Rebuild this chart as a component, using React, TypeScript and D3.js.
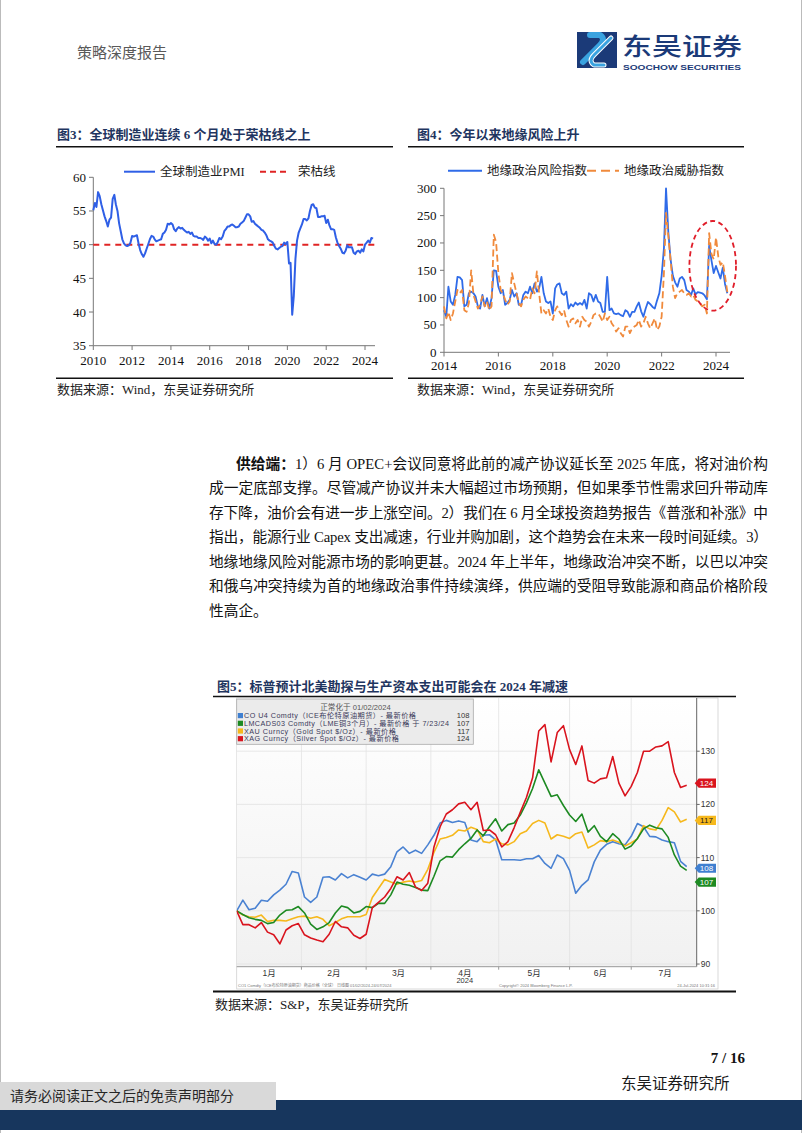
import React from 'react';
import * as d3 from 'd3';

// ---------- Figure 3: Global manufacturing PMI (monthly, Jan 2010 - Jun 2024) ----------
const pmiStartYear = 2010;
const pmiValues = [
  55.1, 56.2, 55.6, 57.8, 57.2, 56.0, 55.1, 54.2, 53.5, 52.7, 53.7, 54.0,
  56.8, 57.4, 56.0, 55.0, 53.2, 52.0, 50.8, 50.2, 49.9, 49.8, 49.9, 50.3,
  51.3, 51.2, 51.3, 51.4, 50.2, 49.2, 48.6, 48.2, 48.7, 49.4, 50.1, 50.8,
  51.3, 51.2, 50.8, 50.5, 50.6, 50.7, 50.8, 51.6, 51.8, 52.2, 53.1, 53.0,
  53.2, 53.0, 52.3, 52.0, 52.4, 52.6, 52.4, 52.5, 52.2, 52.0, 51.8, 51.9,
  51.6, 51.8, 51.3, 51.2, 51.2, 51.0, 51.0, 50.9, 50.7, 51.2, 51.0, 50.6,
  50.9, 50.2, 50.6, 50.1, 50.0, 50.4, 51.0, 50.8, 51.2, 52.0, 52.3, 52.7,
  52.7, 52.9, 53.0, 52.8, 52.6, 52.6, 52.7, 53.1, 53.3, 53.5, 54.0, 54.5,
  54.5, 54.2, 53.4, 53.5, 53.1, 52.9, 52.7, 52.5, 52.2, 52.1, 51.8, 51.4,
  50.8, 50.6, 50.5, 50.3, 49.8, 49.4, 49.3, 49.5, 49.7, 49.8, 50.3, 50.1,
  50.4, 47.2, 47.3, 39.6, 42.4, 47.9, 50.6, 51.8, 52.4, 53.0, 53.8, 53.8,
  53.6, 53.9, 55.0, 55.9, 56.0, 55.5, 55.4, 54.1, 54.1, 54.2, 54.2, 54.3,
  53.2, 53.7, 52.9, 52.3, 52.3, 52.2, 51.1, 50.3, 49.8, 49.4, 48.8, 48.7,
  49.1, 49.9, 49.6, 49.6, 49.6, 48.8, 48.6, 49.0, 49.1, 48.8, 49.3, 49.0,
  50.0, 50.3, 50.6, 50.3, 51.0, 50.9,
];
const boomBustLine = 50;
const pmiYTicks = [35, 40, 45, 50, 55, 60];
const pmiXTicks = [2010, 2012, 2014, 2016, 2018, 2020, 2022, 2024];

// ---------- Figure 4: Geopolitical risk / threat index (monthly, Jan 2014 - Jun 2024) ----------
const gprStartYear = 2014;
const gprRisk = [
  77, 65, 120, 93, 87, 105, 138, 137, 132, 84, 87, 108,
  111, 108, 102, 84, 80, 105, 84, 99, 80, 99, 150, 149,
  120, 108, 114, 87, 90, 96, 114, 102, 108, 87, 87, 105,
  111, 108, 120, 108, 126, 111, 117, 138, 108, 93, 90, 93,
  71, 117, 124, 126, 108, 105, 111, 80, 88, 84, 91, 87,
  90, 87, 96, 80, 108, 105, 93, 105, 93, 90, 74, 74,
  138, 77, 80, 71, 70, 71, 68, 66, 77, 74, 65, 74,
  74, 84, 91, 75, 65, 80, 92, 88, 83, 80, 95, 108,
  140, 190, 300, 220, 170, 140, 128, 120, 135, 138, 132, 114,
  111, 105, 117, 106, 110, 109, 108, 104, 97, 195, 168, 145,
  158, 146, 135, 155, 125, 108,
];
const gprThreat = [
  84, 62, 74, 59, 71, 93, 114, 108, 114, 77, 74, 90,
  150, 105, 93, 80, 87, 102, 84, 93, 77, 84, 215, 202,
  145, 114, 108, 96, 87, 93, 145, 126, 108, 90, 84, 96,
  102, 99, 96, 117, 108, 148, 108, 71, 77, 71, 80, 65,
  59, 77, 84, 74, 68, 77, 59, 47, 59, 62, 53, 59,
  47, 65, 59, 56, 47, 56, 68, 71, 71, 65, 56, 71,
  59, 65, 53, 47, 38, 44, 35, 29, 47, 47, 35, 44,
  47, 50, 59, 47, 53, 65, 53, 44, 53, 62, 41, 47,
  65, 145, 255, 212, 169, 120, 99, 108, 111, 114, 108, 105,
  108, 102, 105, 96, 93, 90, 84, 87, 71, 218, 180, 170,
  210, 175, 160, 165, 140, 110,
];
const gprYTicks = [0, 50, 100, 150, 200, 250, 300];
const gprXTicks = [2014, 2016, 2018, 2020, 2022, 2024];

// ---------- Figure 5: normalized prices (every 2nd trading day from 01/02/2024) ----------
const bbDayStep = 2;
const bbEndDay = 146;
const brent = [
  100.0, 102.0, 100.2, 100.5, 102.0, 101.8, 103.0, 103.9, 105.0, 107.4,
  107.1, 102.6, 101.6, 102.6, 106.3, 106.4, 105.8, 107.0, 106.2, 106.8,
  106.3, 105.8, 106.9, 106.6, 106.9, 108.3, 111.1, 112.0, 110.8, 111.4,
  110.8, 112.4, 114.2, 116.5, 117.0, 116.6, 116.9, 116.6, 113.3, 113.0,
  114.2, 114.3, 113.4, 109.6, 109.6, 109.6, 109.5, 109.8, 109.8, 110.4,
  108.9, 108.0, 110.5, 109.8, 107.6, 103.3, 104.8, 105.8, 109.2, 111.4,
  112.5, 113.0, 112.6, 112.4, 114.0, 116.4, 115.8, 114.0, 113.9, 113.3,
  113.0, 112.8, 109.3, 108.3,
];
const copper = [
  100.0, 99.3, 98.7, 98.4, 98.2, 97.6, 97.8, 99.2, 100.1, 100.2,
  100.8, 99.6, 97.5, 96.5, 97.0, 97.8, 99.6, 100.9, 100.6, 99.6,
  99.9, 100.8, 100.6, 101.4, 101.4, 103.0, 105.4, 105.0, 104.8, 104.4,
  103.9, 103.8, 106.5, 109.4, 110.2, 110.1, 111.5, 112.6, 113.6, 115.2,
  114.1, 115.8, 117.3, 115.0, 116.2, 116.5, 118.0, 120.3, 123.0, 126.5,
  124.0, 121.5, 121.8, 119.8, 118.0, 116.8, 118.2, 114.8, 116.0, 114.0,
  113.0, 114.5, 113.5, 111.6, 112.2, 113.6, 115.4, 116.1, 115.6, 115.4,
  113.8, 110.5, 108.4, 107.6,
];
const gold = [
  100.0, 99.2, 98.9, 98.8, 99.2, 98.0, 98.2, 98.2, 98.1, 98.5,
  98.9, 99.0, 98.6, 98.9, 98.4, 97.2, 97.8, 98.5, 98.9, 98.9,
  98.9, 99.3, 102.5, 104.2, 105.9, 105.4, 105.0, 105.4, 105.6, 105.4,
  105.7, 107.8, 111.0, 113.5, 113.8, 114.2, 115.2, 115.0, 115.7, 115.3,
  113.0, 112.8, 113.5, 112.6, 112.4, 113.0, 114.5, 115.0, 116.4, 117.0,
  116.5, 113.5, 114.3, 114.0, 113.6, 114.5, 114.8, 111.8, 112.4, 113.2,
  113.0, 113.3, 112.9, 112.2, 112.8, 113.5, 116.0, 115.4, 115.2, 117.0,
  119.4, 118.6, 116.7, 117.2,
];
const silver = [
  100.0, 97.4, 97.4, 96.8, 97.8, 96.0, 95.5, 93.8, 96.4, 97.2,
  97.6, 95.5, 94.9, 94.5, 94.2, 95.6, 98.0, 97.0, 96.8, 95.4,
  94.8, 95.6, 100.6, 101.6, 102.6, 104.2, 106.4, 105.8, 107.2, 104.5,
  103.8, 105.2, 112.0, 115.8, 118.2, 119.0, 120.1, 120.4, 119.0, 120.4,
  115.1, 115.2, 114.3, 112.0, 113.0, 115.6, 118.5, 121.3, 125.0, 133.8,
  135.0, 128.0, 133.5, 134.8, 130.3, 127.5, 131.0, 124.5, 124.0, 124.8,
  125.0, 129.0, 124.0, 121.6, 123.4, 126.0, 130.0, 130.0, 130.8, 131.0,
  131.8, 126.0, 123.2, 123.6,
];
const bbLastValues = [108, 107, 117, 124];
const bbMonthLabels = ['1月', '2月', '3月', '4月', '5月', '6月', '7月'];
const bbMonthStarts = [0, 21, 42, 63, 85, 108, 128];
const bbMonthLabelDays = [10.5, 31.5, 52.5, 74, 96.5, 118, 139];
const bbYTicks = [90, 100, 110, 120, 130];
const bbLegend = [
  'CO U4 Comdty（ICE布伦特原油期货）- 最新价格',
  'LMCADS03 Comdty（LME铜3个月）- 最新价格 于 7/23/24',
  'XAU Curncy（Gold Spot  $/Oz）- 最新价格',
  'XAG Curncy（Silver Spot  $/Oz）- 最新价格',
];
const bbLegendWidths = [172, 205, 152, 155];

// ---------- paragraph ----------
const paraLines = [
  '成一定底部支撑。尽管减产协议并未大幅超过市场预期，但如果季节性需求回升带动库',
  '存下降，油价会有进一步上涨空间。2）我们在 6 月全球投资趋势报告《普涨和补涨》中',
  '指出，能源行业 Capex 支出减速，行业并购加剧，这个趋势会在未来一段时间延续。3）',
  '地缘地缘风险对能源市场的影响更甚。2024 年上半年，地缘政治冲突不断，以巴以冲突',
  '和俄乌冲突持续为首的地缘政治事件持续演绎，供应端的受阻导致能源和商品价格阶段',
];

const SERIF = "'Liberation Serif','Times New Roman','Noto Sans CJK SC',serif";
const SANS = "'Liberation Sans','Noto Sans CJK SC',sans-serif";
const CJK = "'Noto Sans CJK SC','Liberation Serif',serif";
const TITLE_COLOR = '#1f3560';

function Fig3() {
  const x = d3.scaleTime().domain([new Date(2010, 0, 1), new Date(2024, 0, 1)]).range([93.3, 365]);
  const y = d3.scaleLinear().domain([35, 60]).range([345.7, 177.3]);
  const path = d3.line<number>()
    .x((_, i) => x(new Date(pmiStartYear, i, 1)))
    .y((d) => y(d))(pmiValues) || '';
  return (
    <g>
      <text x={57} y={139} fontFamily={SERIF} fontSize={13} fontWeight="bold" fill={TITLE_COLOR}>图3：全球制造业连续 6 个月处于荣枯线之上</text>
      <line x1={56} x2={393} y1={146.7} y2={146.7} stroke="#111" strokeWidth={1.5} />
      <line x1={124} x2={155} y1={171.7} y2={171.7} stroke="#2f5fe6" strokeWidth={2} />
      <text x={160} y={176} fontFamily={SERIF} fontSize={12.5} fill="#222">全球制造业PMI</text>
      <line x1={260} x2={290} y1={171.7} y2={171.7} stroke="#e02424" strokeWidth={2} strokeDasharray="6,4" />
      <text x={298} y={176} fontFamily={SERIF} fontSize={12.5} fill="#222">荣枯线</text>
      <line x1={93.3} x2={93.3} y1={177.3} y2={345.7} stroke="#777" strokeWidth={1} />
      <line x1={93.3} x2={375} y1={345.7} y2={345.7} stroke="#777" strokeWidth={1} />
      {pmiYTicks.map((t) => (
        <g key={t}>
          <line x1={89} x2={93.3} y1={y(t)} y2={y(t)} stroke="#777" />
          <text x={86} y={y(t) + 4.5} textAnchor="end" fontFamily={SERIF} fontSize={13} fill="#111">{t}</text>
        </g>
      ))}
      {pmiXTicks.map((t) => (
        <g key={t}>
          <line x1={x(new Date(t, 0, 1))} x2={x(new Date(t, 0, 1))} y1={345.7} y2={350} stroke="#777" />
          <text x={x(new Date(t, 0, 1))} y={364.5} textAnchor="middle" fontFamily={SERIF} fontSize={13} fill="#111">{t}</text>
        </g>
      ))}
      <line x1={93.3} x2={375} y1={y(boomBustLine)} y2={y(boomBustLine)} stroke="#e02424" strokeWidth={2} strokeDasharray="6,5" />
      <path d={path} fill="none" stroke="#2f5fe6" strokeWidth={2} strokeLinejoin="round" />
      <line x1={56} x2={393} y1={378.3} y2={378.3} stroke="#111" strokeWidth={1.5} />
      <text x={57} y={394} fontFamily={SERIF} fontSize={13} fill="#222">数据来源：Wind，东吴证券研究所</text>
    </g>
  );
}

function Fig4() {
  const x = d3.scaleTime().domain([new Date(2014, 0, 1), new Date(2024, 0, 1)]).range([444, 716]);
  const y = d3.scaleLinear().domain([0, 300]).range([352.3, 188.3]);
  const mk = (arr: number[]) => d3.line<number>()
    .x((_, i) => x(new Date(gprStartYear, i, 1)))
    .y((d) => y(d))(arr) || '';
  return (
    <g>
      <text x={417} y={139} fontFamily={SERIF} fontSize={13} fontWeight="bold" fill={TITLE_COLOR}>图4：今年以来地缘风险上升</text>
      <line x1={408} x2={744} y1={146.7} y2={146.7} stroke="#111" strokeWidth={1.5} />
      <line x1={448} x2={482} y1={170.7} y2={170.7} stroke="#2f6be8" strokeWidth={2} />
      <text x={487} y={175} fontFamily={SERIF} fontSize={12.5} fill="#222">地缘政治风险指数</text>
      <line x1={587} x2={619} y1={170.7} y2={170.7} stroke="#f08a3c" strokeWidth={2} strokeDasharray="9,5" />
      <text x={624} y={175} fontFamily={SERIF} fontSize={12.5} fill="#222">地缘政治威胁指数</text>
      <line x1={444} x2={444} y1={188.3} y2={352.3} stroke="#777" />
      <line x1={444} x2={730} y1={352.3} y2={352.3} stroke="#777" />
      {gprYTicks.map((t) => (
        <g key={t}>
          <line x1={440} x2={444} y1={y(t)} y2={y(t)} stroke="#777" />
          <text x={436.5} y={y(t) + 4.5} textAnchor="end" fontFamily={SERIF} fontSize={13} fill="#111">{t}</text>
        </g>
      ))}
      {gprXTicks.map((t) => (
        <g key={t}>
          <line x1={x(new Date(t, 0, 1))} x2={x(new Date(t, 0, 1))} y1={352.3} y2={356.5} stroke="#777" />
          <text x={x(new Date(t, 0, 1))} y={370} textAnchor="middle" fontFamily={SERIF} fontSize={13} fill="#111">{t}</text>
        </g>
      ))}
      <path d={mk(gprRisk)} fill="none" stroke="#2f6be8" strokeWidth={1.8} strokeLinejoin="round" />
      <path d={mk(gprThreat)} fill="none" stroke="#f08a3c" strokeWidth={1.8} strokeDasharray="7,3.5" strokeLinejoin="round" />
      <ellipse cx={712.7} cy={265.8} rx={23.3} ry={44.8} fill="none" stroke="#e01e2a" strokeWidth={1.8} strokeDasharray="5,3.5" />
      <line x1={408} x2={744} y1={378.3} y2={378.3} stroke="#111" strokeWidth={1.5} />
      <text x={417} y={394} fontFamily={SERIF} fontSize={13} fill="#222">数据来源：Wind，东吴证券研究所</text>
    </g>
  );
}

function Paragraph() {
  const top = 469;
  const lh = 24.45;
  return (
    <g fontFamily={SERIF} fontSize={14.7} fill="#111">
      <text x={236} y={top} textLength={532} lengthAdjust="spacing">
        <tspan fontWeight="bold">供给端：</tspan>1）6 月 OPEC+会议同意将此前的减产协议延长至 2025 年底，将对油价构
      </text>
      {paraLines.map((l, i) => (
        <text key={i} x={209} y={top + lh * (i + 1)} textLength={559} lengthAdjust="spacing">{l}</text>
      ))}
      <text x={209} y={top + lh * 6}>性高企。</text>
    </g>
  );
}

function Fig5() {
  const left = 236.7, right = 696.7, top = 698, bottom = 966.7;
  const xb = d3.scaleLinear().domain([0, bbEndDay]).range([236.7, 686.7]);
  const yb = d3.scaleLinear().domain([89.5, 140]).range([bottom, top]);
  const mk = (arr: number[]) => d3.line<number>()
    .x((_, i) => xb(i * bbDayStep))
    .y((d) => yb(d))(arr) || '';
  const series = [
    { data: brent, color: '#4a82d2' },
    { data: gold, color: '#f6b81c' },
    { data: copper, color: '#1d8a22' },
    { data: silver, color: '#d9141e' },
  ];
  const tags = [
    { v: bbLastValues[1], fill: '#1d8a22', tc: '#fff', dy: 8.5 },
    { v: bbLastValues[0], fill: '#3f7fd0', tc: '#fff', dy: 0 },
    { v: bbLastValues[2], fill: '#f6b81c', tc: '#222', dy: 0 },
    { v: bbLastValues[3], fill: '#d9141e', tc: '#fff', dy: 0 },
  ];
  const legendColors = ['#3f7fd0', '#1d8a22', '#f6b81c', '#d9141e'];
  return (
    <g>
      <defs>
        <linearGradient id="bbg" x1="0" x2="0" y1="0" y2="1">
          <stop offset="0" stopColor="#ffffff" />
          <stop offset="1" stopColor="#f1f1f1" />
        </linearGradient>
        <clipPath id="bbclip">
          <rect x={left} y={top} width={right - left} height={bottom - top} />
        </clipPath>
      </defs>
      <text x={217} y={691} fontFamily={SERIF} fontSize={13} fontWeight="bold" fill={TITLE_COLOR}>图5：标普预计北美勘探与生产资本支出可能会在 2024 年减速</text>
      <rect x={left} y={top} width={718 - left} height={989 - top} fill="#fff" stroke="#d0d0d0" strokeWidth={0.8} />
      <rect x={left} y={top} width={right - left} height={bottom - top} fill="url(#bbg)" />
      {bbYTicks.map((t) => (
        <line key={t} x1={left} x2={right} y1={yb(t)} y2={yb(t)} stroke="#e2e2e2" strokeWidth={0.8} />
      ))}
      {bbMonthStarts.slice(1).map((d) => (
        <line key={d} x1={xb(d)} x2={xb(d)} y1={top} y2={bottom} stroke="#e2e2e2" strokeWidth={0.8} />
      ))}
      <g clipPath="url(#bbclip)">
        {series.map((s, i) => (
          <path key={i} d={mk(s.data)} fill="none" stroke={s.color} strokeWidth={1.6} strokeLinejoin="round" />
        ))}
      </g>
      <line x1={right} x2={right} y1={top} y2={bottom} stroke="#666" strokeWidth={1} />
      <line x1={left} x2={right} y1={bottom} y2={bottom} stroke="#999" strokeWidth={1} />
      {bbYTicks.map((t) => (
        <g key={t}>
          <line x1={right} x2={right + 3} y1={yb(t)} y2={yb(t)} stroke="#666" />
          <text x={right + 4} y={yb(t) + 3} fontFamily={SANS} fontSize={8.5} fill="#333">{t}</text>
        </g>
      ))}
      {bbMonthStarts.slice(1).map((d) => (
        <line key={d} x1={xb(d)} x2={xb(d)} y1={bottom} y2={bottom + 3} stroke="#999" />
      ))}
      {bbMonthLabels.map((m, i) => (
        <text key={m} x={xb(bbMonthLabelDays[i])} y={975.5} textAnchor="middle" fontFamily={SANS} fontSize={8.5} fill="#333">{m}</text>
      ))}
      <text x={xb(bbMonthLabelDays[3])} y={983} textAnchor="middle" fontFamily={SANS} fontSize={7.5} fill="#333">2024</text>
      {tags.map((t, i) => {
        const yy = yb(t.v) + t.dy;
        return (
          <g key={i}>
            <path d={`M${right - 2},${yy} L${right + 2},${yy - 4.6} L${716},${yy - 4.6} L${716},${yy + 4.6} L${right + 2},${yy + 4.6} Z`} fill={t.fill} />
            <text x={706.5} y={yy + 3} textAnchor="middle" fontFamily={SANS} fontSize={8} fill={t.tc}>{t.v}</text>
          </g>
        );
      })}
      <rect x={236.7} y={699} width={236.6} height={45.3} fill="#ebebeb" stroke="#a9a9a9" strokeWidth={0.8} />
      <text x={355.5} y={710} textAnchor="middle" fontFamily={SANS} fontSize={7.6} fill="#555">正常化于 01/02/2024</text>
      {bbLegend.map((l, i) => (
        <g key={i}>
          <rect x={237.8} y={713 + i * 7.7} width={5.2} height={5.2} fill={legendColors[i]} />
          <text x={244} y={718.3 + i * 7.7} fontFamily={SANS} fontSize={7.2} fill="#3a3a5a" textLength={bbLegendWidths[i]} lengthAdjust="spacing">{l}</text>
          <text x={469.5} y={718.3 + i * 7.7} textAnchor="end" fontFamily={SANS} fontSize={7.6} fill="#333">{bbLastValues[i]}</text>
        </g>
      ))}
      <text x={238} y={987} fontFamily={SANS} fontSize={4} fill="#777">CO1 Comdty（ICE布伦特原油期货）商品价格（全球）    日线图 01/02/2024-24/07/2024</text>
      <text x={499} y={987} fontFamily={SANS} fontSize={4} fill="#777">Copyright© 2024 Bloomberg Finance L.P.</text>
      <text x={715} y={987} textAnchor="end" fontFamily={SANS} fontSize={4} fill="#777">24-Jul-2024 10:31:16</text>
      <line x1={213} x2={736} y1={696.5} y2={696.5} stroke="#111" strokeWidth={1.5} />
      <line x1={213} x2={736} y1={991.5} y2={991.5} stroke="#111" strokeWidth={1.8} />
      <text x={215} y={1008.5} fontFamily={SERIF} fontSize={13} fill="#222">数据来源：S&amp;P，东吴证券研究所</text>
    </g>
  );
}

function Header() {
  return (
    <g>
      <text x={77} y={58} fontFamily={CJK} fontSize={15} fill="#595959">策略深度报告</text>
      <rect x={577} y={32} width={40} height={36} fill="#1b3a78" />
      <path d="M583,62 L600,45 Q606,39 600,35 L590,35" fill="none" stroke="#3aa3e0" strokeWidth={6} strokeLinecap="round" strokeLinejoin="round" />
      <path d="M611,38 L594,55 Q588,61 594,65 L604,65" fill="none" stroke="#ffffff" strokeWidth={5} strokeLinecap="round" strokeLinejoin="round" />
      <path d="M611,38 L594,55 Q588,61 594,65 L604,65" fill="none" stroke="#3aa3e0" strokeWidth={3} strokeLinecap="round" strokeLinejoin="round" />
      <text x={622} y={55} fontFamily={CJK} fontSize={24} fontWeight="500" fill="#1b3a78" textLength={120} lengthAdjust="spacingAndGlyphs">东吴证券</text>
      <text x={623} y={69.5} fontFamily={SANS} fontSize={8} fontWeight="bold" fill="#1b3a78" textLength={118} lengthAdjust="spacingAndGlyphs">SOOCHOW SECURITIES</text>
    </g>
  );
}

function Footer() {
  return (
    <g>
      <text x={745} y={1063} textAnchor="end" fontFamily={SERIF} fontSize={15} fontWeight="bold" fill="#111">7 / 16</text>
      <text x={621} y={1089} fontFamily={CJK} fontSize={15.5} fill="#1a1a1a">东吴证券研究所</text>
      <rect x={0} y={1100} width={802} height={30} fill="#17365d" />
      <rect x={0} y={1082} width={276} height={28} fill="#d9d9d9" />
      <text x={10} y={1101} fontFamily={CJK} fontSize={14} fill="#262626">请务必阅读正文之后的免责声明部分</text>
    </g>
  );
}

export default function App() {
  return (
    <svg width={802} height={1133} viewBox="0 0 802 1133" style={{ position: 'absolute', left: 0, top: 0, background: '#fff' }}>
      <rect x={0} y={0} width={802} height={1133} fill="#fff" />
      <line x1={0.5} x2={0.5} y1={0} y2={1133} stroke="#bbb" />
      <line x1={801.5} x2={801.5} y1={0} y2={1133} stroke="#bbb" />
      <Header />
      <Fig3 />
      <Fig4 />
      <Paragraph />
      <Fig5 />
      <Footer />
    </svg>
  );
}
